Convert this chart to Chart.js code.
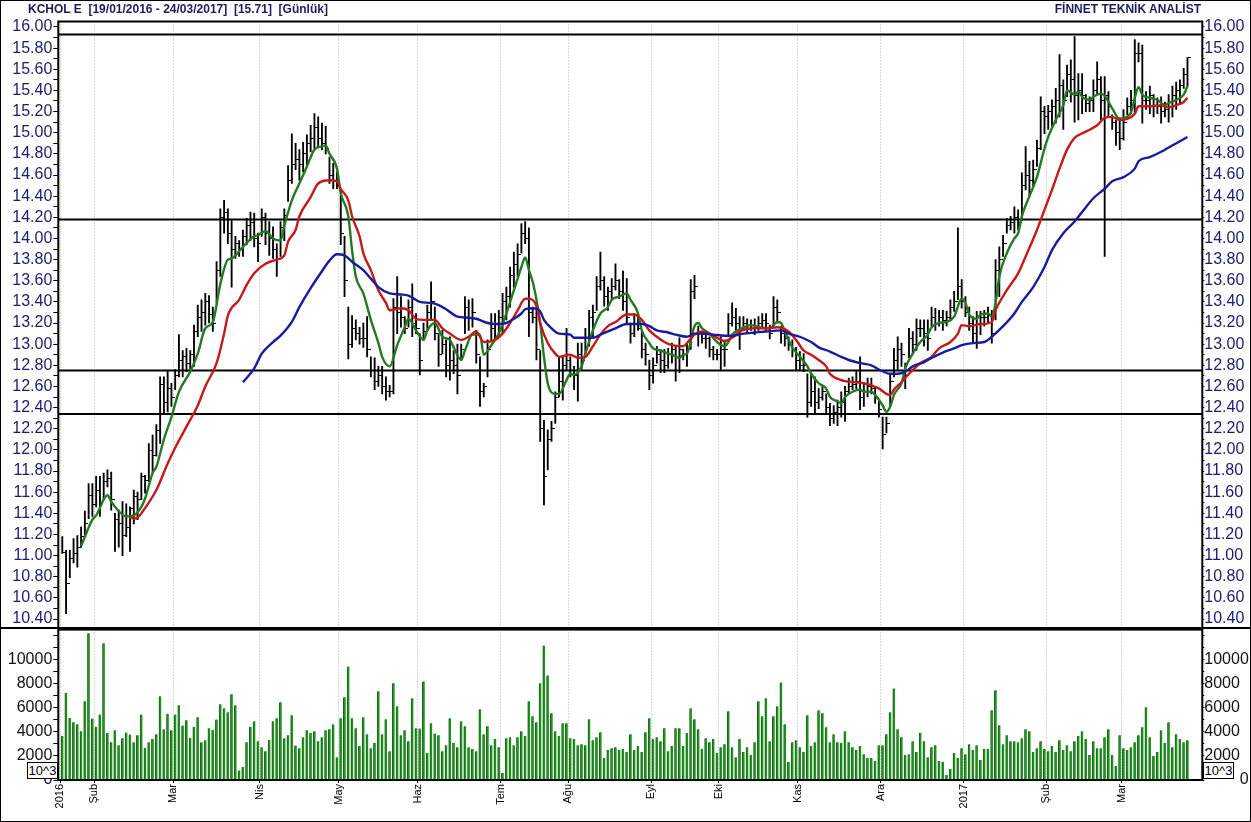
<!DOCTYPE html>
<html>
<head>
<meta charset="utf-8">
<script src="https://cdn.jsdelivr.net/npm/chart.js@4.4.1/dist/chart.umd.min.js"></script>
<style>
  body { margin: 0; background: #fff; }
  #wrap { position: relative; width: 1251px; height: 822px; overflow: hidden; background: #fff;
          font-family: "Liberation Sans", Arial, sans-serif; }
  canvas { position: absolute; left: 0; }
  .head { position: absolute; top: 2px; font-weight: bold; font-size: 12px; line-height: 14px;
          color: #1c1c5c; white-space: pre; }
  .unit { position: absolute; top: 762px; width: 29px; height: 15px; border: 1px solid #000;
          background: #fff; font-size: 13px; line-height: 15px; text-align: center; color: #000; }
  #sep { position: absolute; left: 0; top: 627px; width: 1251px; height: 2px; background: #000; }
  #frame { position: absolute; left: 0; top: 0; width: 1251px; height: 822px; box-sizing: border-box;
           border: 1px solid #000; pointer-events: none; }
</style>
</head>
<body>
<div id="wrap">
  <canvas id="price" width="1251" height="640" style="top:0"></canvas>
  <canvas id="vol" width="1251" height="203" style="top:619px"></canvas>
  <div id="sep"></div>
  <div class="head" style="left:28px">KCHOL E  [19/01/2016 - 24/03/2017]  [15.71]  [Günlük]</div>
  <div class="head" style="right:50px">FİNNET TEKNİK ANALİST</div>
  <div class="unit" style="left:27px">10^3</div>
  <div class="unit" style="left:1203px">10^3</div>
  <div id="frame"></div>
</div>
<script>
// month boundaries (trading-day index of the first bar of each month)
const monthStarts = [0, 9, 30, 53, 74, 95, 117, 135, 157, 175, 196, 218, 240, 262, 282];
const monthLabels = ['2016', 'Şub', 'Mar', 'Nis', 'May', 'Haz', 'Tem', 'Ağu', 'Eyl', 'Eki', 'Kas', 'Ara', '2017', 'Şub', 'Mar'];

const priceTicks = [10.4, 10.6, 10.8, 11.0, 11.2, 11.4, 11.6, 11.8, 12.0, 12.2, 12.4, 12.6, 12.8, 13.0, 13.2,
                    13.4, 13.6, 13.8, 14.0, 14.2, 14.4, 14.6, 14.8, 15.0, 15.2, 15.4, 15.6, 15.8, 16.0];
const volTicks = [0, 2000, 4000, 6000, 8000, 10000];

// horizontal support / resistance levels
const levels = [15.93, 14.18, 12.75, 12.34];

// daily bars, 19/01/2016 - 24/03/2017
const highs = [
  11.18, 11.05, 11.05, 11.16, 11.19, 11.27, 11.42, 11.68, 11.68, 11.75,
  11.75, 11.78, 11.81, 11.79, 11.40, 11.43, 11.51, 11.49, 11.46, 11.62,
  11.60, 11.78, 11.76, 12.06, 12.14, 12.24, 12.69, 12.69, 12.74, 12.63,
  12.76, 13.09, 12.94, 12.96, 12.94, 13.18, 13.37, 13.42, 13.48, 13.46,
  13.35, 13.78, 14.28, 14.36, 14.28, 14.17, 14.02, 13.98, 14.08, 14.19,
  14.25, 14.24, 14.05, 14.28, 14.24, 14.16, 14.11, 13.95, 14.16, 14.28,
  14.69, 14.99, 14.90, 14.84, 14.91, 14.98, 15.07, 15.18, 15.15, 15.09,
  15.06, 14.77, 14.71, 14.63, 14.46, 14.02, 13.35, 13.27, 13.23, 13.16,
  13.20, 13.26, 12.88, 12.87, 12.79, 12.79, 12.69, 12.61, 13.43, 13.64,
  13.45, 13.26, 13.42, 13.57, 13.29, 13.10, 13.20, 13.37, 13.59, 13.35,
  13.10, 13.13, 13.04, 13.07, 12.94, 13.00, 13.00, 13.45, 13.42, 13.43,
  13.13, 12.88, 12.63, 13.04, 13.29, 13.29, 13.32, 13.48, 13.54, 13.73,
  13.87, 13.95, 14.14, 14.16, 14.10, 13.35, 13.32, 12.94, 12.28, 12.19,
  12.27, 12.55, 12.88, 12.88, 13.15, 12.88, 12.79, 13.01, 13.01, 13.15,
  13.32, 13.37, 13.64, 13.87, 13.64, 13.54, 13.62, 13.76, 13.61, 13.69,
  13.62, 13.20, 13.29, 13.29, 13.12, 13.01, 12.85, 12.87, 12.98, 12.95,
  12.95, 12.96, 13.01, 12.98, 13.06, 12.95, 13.01, 13.61, 13.65, 13.17,
  13.12, 13.13, 13.07, 12.98, 12.95, 13.07, 13.02, 13.29, 13.39, 13.34,
  13.26, 13.26, 13.24, 13.23, 13.24, 13.26, 13.29, 13.29, 13.18, 13.45,
  13.42, 13.17, 13.13, 13.07, 13.04, 12.97, 12.93, 12.91, 12.72, 12.72,
  12.69, 12.58, 12.61, 12.53, 12.44, 12.42, 12.47, 12.55, 12.60, 12.68,
  12.69, 12.74, 12.88, 12.63, 12.68, 12.68, 12.60, 12.46, 12.31, 12.31,
  12.71, 12.96, 13.07, 13.01, 12.82, 13.15, 13.12, 13.24, 13.23, 13.23,
  13.23, 13.35, 13.34, 13.32, 13.32, 13.31, 13.42, 13.50, 14.10, 13.61,
  13.45, 13.35, 13.26, 13.31, 13.31, 13.32, 13.35, 13.32, 13.80, 13.92,
  14.03, 14.19, 14.21, 14.30, 14.27, 14.62, 14.87, 14.73, 14.74, 14.93,
  15.34, 15.25, 15.26, 15.31, 15.42, 15.74, 15.50, 15.64, 15.69, 15.91,
  15.56, 15.56, 15.36, 15.34, 15.50, 15.67, 15.53, 15.53, 15.39, 15.17,
  15.12, 15.14, 15.22, 15.33, 15.40, 15.88, 15.85, 15.83, 15.39, 15.44,
  15.36, 15.33, 15.34, 15.29, 15.36, 15.44, 15.48, 15.50, 15.61, 15.71
];
const lows = [
  11.02, 10.45, 10.79, 10.93, 10.89, 11.08, 11.18, 11.35, 11.37, 11.46,
  11.37, 11.53, 11.65, 11.43, 11.04, 11.08, 11.00, 11.18, 11.04, 11.30,
  11.34, 11.53, 11.59, 11.70, 11.78, 11.94, 12.06, 12.34, 12.36, 12.41,
  12.57, 12.69, 12.69, 12.74, 12.76, 12.79, 13.07, 13.12, 13.18, 13.20,
  13.12, 13.39, 13.64, 14.05, 13.95, 13.54, 13.81, 13.83, 13.83, 13.94,
  13.98, 13.92, 13.78, 14.02, 13.94, 13.84, 13.81, 13.64, 13.83, 13.98,
  14.35, 14.52, 14.65, 14.55, 14.63, 14.69, 14.82, 14.85, 14.87, 14.84,
  14.80, 14.52, 14.47, 14.47, 13.94, 13.45, 12.86, 12.97, 13.04, 13.00,
  12.97, 12.88, 12.69, 12.57, 12.60, 12.53, 12.47, 12.50, 12.53, 13.10,
  13.16, 13.10, 13.16, 13.07, 13.10, 12.71, 13.04, 13.13, 13.23, 13.04,
  12.79, 12.91, 12.69, 12.66, 12.72, 12.53, 12.85, 13.10, 13.13, 13.16,
  12.82, 12.41, 12.50, 12.69, 13.04, 13.04, 13.07, 13.10, 13.23, 13.35,
  13.54, 13.64, 13.86, 13.95, 13.07, 13.20, 12.85, 12.08, 11.48, 11.81,
  12.08, 12.25, 12.50, 12.47, 12.76, 12.69, 12.57, 12.46, 12.76, 12.91,
  12.98, 13.07, 13.32, 13.51, 13.36, 13.32, 13.42, 13.51, 13.43, 13.32,
  13.20, 13.01, 13.07, 13.13, 12.87, 12.80, 12.57, 12.63, 12.82, 12.73,
  12.73, 12.77, 12.82, 12.65, 12.73, 12.85, 12.79, 12.95, 13.43, 12.98,
  13.01, 12.96, 12.88, 12.85, 12.85, 12.76, 12.79, 13.07, 13.17, 13.13,
  12.95, 13.13, 13.10, 13.13, 13.09, 13.13, 13.16, 13.13, 13.05, 13.16,
  13.20, 13.01, 12.98, 12.94, 12.88, 12.75, 12.75, 12.74, 12.31, 12.41,
  12.34, 12.39, 12.47, 12.34, 12.23, 12.25, 12.23, 12.31, 12.27, 12.53,
  12.57, 12.58, 12.38, 12.41, 12.50, 12.53, 12.44, 12.31, 12.01, 12.16,
  12.41, 12.69, 12.76, 12.79, 12.58, 12.87, 12.91, 12.94, 13.07, 12.98,
  12.94, 13.17, 13.13, 13.17, 13.13, 13.17, 13.23, 13.31, 13.42, 13.34,
  13.26, 13.13, 13.02, 12.96, 13.09, 13.17, 13.20, 13.01, 13.23, 13.45,
  13.83, 14.05, 14.08, 14.05, 14.08, 14.17, 14.46, 14.40, 14.49, 14.68,
  14.84, 14.99, 15.03, 15.06, 15.09, 15.15, 15.03, 15.34, 15.29, 15.10,
  15.12, 15.18, 15.20, 15.20, 15.20, 15.36, 15.12, 13.83, 15.15, 15.03,
  14.88, 14.84, 14.93, 15.17, 15.18, 15.18, 15.67, 15.09, 15.22, 15.18,
  15.15, 15.18, 15.09, 15.15, 15.10, 15.15, 15.22, 15.28, 15.42, 15.44
];
const closes = [
  11.03, 10.74, 10.97, 11.02, 11.08, 11.18, 11.30, 11.57, 11.48, 11.62,
  11.49, 11.70, 11.73, 11.53, 11.34, 11.30, 11.19, 11.27, 11.45, 11.56,
  11.53, 11.75, 11.71, 11.99, 11.95, 12.18, 12.62, 12.45, 12.58, 12.50,
  12.70, 12.85, 12.88, 12.82, 12.90, 13.12, 13.25, 13.30, 13.40, 13.28,
  13.20, 13.70, 14.20, 14.25, 14.05, 13.90, 13.95, 13.90, 14.02, 14.12,
  14.15, 14.00, 13.95, 14.20, 14.05, 14.00, 13.90, 13.80, 14.10, 14.22,
  14.55, 14.70, 14.75, 14.70, 14.80, 14.90, 14.95, 15.05, 14.95, 14.90,
  14.85, 14.60, 14.55, 14.50, 14.05, 13.60, 13.00, 13.15, 13.10, 13.05,
  13.05, 12.95, 12.75, 12.65, 12.70, 12.60, 12.55, 12.55, 13.35, 13.30,
  13.25, 13.15, 13.35, 13.20, 13.15, 12.85, 13.12, 13.30, 13.40, 13.10,
  12.90, 13.00, 12.80, 12.85, 12.80, 12.70, 12.95, 13.35, 13.25, 13.30,
  12.90, 12.55, 12.60, 12.95, 13.15, 13.20, 13.25, 13.40, 13.45, 13.65,
  13.75, 13.85, 14.05, 14.00, 13.30, 13.25, 12.95, 12.20, 11.75, 12.10,
  12.20, 12.50, 12.65, 12.80, 12.85, 12.75, 12.70, 12.90, 12.85, 13.05,
  13.25, 13.30, 13.55, 13.60, 13.45, 13.50, 13.55, 13.60, 13.50, 13.40,
  13.25, 13.10, 13.20, 13.15, 12.95, 12.90, 12.70, 12.80, 12.90, 12.85,
  12.80, 12.90, 12.95, 12.75, 12.95, 12.90, 12.95, 13.50, 13.55, 13.10,
  13.05, 13.05, 12.95, 12.90, 12.90, 12.95, 12.95, 13.20, 13.25, 13.20,
  13.10, 13.20, 13.15, 13.18, 13.15, 13.20, 13.22, 13.20, 13.10, 13.35,
  13.30, 13.10, 13.05, 13.00, 12.95, 12.85, 12.80, 12.80, 12.45, 12.55,
  12.45, 12.50, 12.55, 12.40, 12.30, 12.35, 12.40, 12.45, 12.55, 12.60,
  12.62, 12.65, 12.50, 12.55, 12.60, 12.58, 12.50, 12.38, 12.15, 12.25,
  12.65, 12.85, 12.95, 12.90, 12.70, 13.05, 13.00, 13.15, 13.15, 13.10,
  13.05, 13.25, 13.20, 13.25, 13.22, 13.25, 13.35, 13.40, 13.55, 13.40,
  13.30, 13.20, 13.10, 13.20, 13.25, 13.25, 13.28, 13.10, 13.70, 13.80,
  13.95, 14.12, 14.15, 14.20, 14.15, 14.50, 14.60, 14.55, 14.65, 14.85,
  15.20, 15.15, 15.20, 15.25, 15.30, 15.45, 15.30, 15.55, 15.50, 15.35,
  15.40, 15.35, 15.28, 15.30, 15.40, 15.50, 15.30, 15.35, 15.25, 15.10,
  15.00, 14.95, 15.10, 15.25, 15.30, 15.75, 15.75, 15.30, 15.30, 15.35,
  15.25, 15.25, 15.20, 15.22, 15.25, 15.35, 15.40, 15.45, 15.55, 15.71
];
// volume, thousands of shares
const volumes = [
  3650, 7240, 5170, 4810, 4640, 4060, 6550, 12200, 5110, 4420,
  5440, 11380, 3920, 3150, 4140, 2900, 3480, 3950, 3780, 3150,
  3730, 5440, 2680, 3150, 3400, 3810, 6960, 4230, 5520, 4140,
  5440, 6220, 4530, 4970, 3510, 4420, 5220, 3150, 3310, 4310,
  4170, 5030, 6300, 5970, 5640, 7130, 6220, 800, 1080, 3150,
  4420, 4890, 3230, 2730, 2400, 3340, 4890, 5140, 6460, 3480,
  3730, 5390, 2870, 2650, 3560, 4140, 3900, 4060, 3230, 3560,
  4140, 4230, 4640, 1900, 5140, 6880, 9450, 5140, 4310, 2820,
  5220, 3810, 2650, 3070, 7380, 3810, 5060, 2400, 8040, 6130,
  3730, 4140, 3230, 6800, 4310, 4280, 8200, 2240, 4720, 3870,
  3730, 2400, 2900, 5140, 3070, 2730, 4890, 4480, 2730, 2570,
  2400, 5880, 3810, 4480, 2900, 3400, 2730, 580, 3480, 3560,
  2900, 3560, 4060, 3650, 6550, 5300, 4810, 8040, 11190, 8700,
  5550, 4060, 3650, 4720, 4720, 3480, 3400, 2900, 2980, 2900,
  5060, 3310, 3560, 3980, 1820, 2490, 2650, 2730, 2490, 2570,
  2320, 3810, 2490, 2820, 2320, 3980, 5140, 3400, 3560, 3230,
  4310, 2400, 2820, 4310, 4310, 2820, 3900, 5970, 5060, 4230,
  2570, 3480, 3150, 3400, 2240, 2730, 2980, 5720, 2730, 1900,
  3400, 2320, 2730, 2070, 3150, 6550, 5300, 6800, 3230, 5300,
  6130, 8120, 4640, 1490, 3150, 3310, 2730, 2320, 5390, 2820,
  3150, 5800, 5550, 4390, 3150, 3810, 3150, 3070, 4060, 3150,
  2730, 2490, 2820, 2150, 1820, 1820, 1570, 2900, 2900, 3810,
  5640, 7620, 4230, 3560, 2070, 2150, 3230, 2320, 3900, 3230,
  1900, 2730, 2900, 1570, 1490, 440, 910, 2240, 1820, 2650,
  2150, 2980, 2490, 2900, 1660, 2570, 2570, 5800, 7460, 4560,
  2980, 3730, 3230, 3230, 3150, 3480, 4230, 4060, 2320, 2650,
  3230, 2570, 2400, 2820, 2320, 3310, 2490, 2900, 2400, 3230,
  3650, 4060, 3400, 2070, 3230, 2650, 2650, 3560, 4230, 2070,
  1160, 3730, 2650, 2490, 2730, 3150, 3730, 4390, 6050, 3560,
  1990, 2320, 4140, 3070, 4810, 2730, 3810, 3400, 3150, 3310
];

// moving averages (day index -> value)
const greenDays = [5,8,9,12,13,15,17,19,21,22, 24,25,27,29,31,34,36,38,40,42, 44,45,48,51,52,54,56,58,59,61,
  63,65,67,69,70,71,73,74,76,77, 78,80,82,84,85,87,89,91,92,94, 96,97,99,101,103,104,106,107,109,111,
  112,114,116,118,119,121,122,123,124,125, 126,127,128,129,131,132,134,135,136,138, 139,141,143,145,146,148,150,151,153,154,
  156,157,159,161,162,164,165,166,168,169, 170,172,174,176,177,178,180,183,185,188, 190,191,192,194,196,198,199,201,203,204,
  206,207,208,210,212,213,215,216,218,219, 220,221,223,224,226,228,230,231,233,235, 237,239,240,241,243,244,246,247,248,249,
  251,253,254,255,257,259,261,262,264,266, 267,269,270,271,273,274,276,277,279,281, 282,284,285,286,287,289,291,293,294,296, 298,299];
const greenVals = [11.09,11.34,11.38,11.57,11.51,11.42,11.37,11.38,11.46,11.54, 11.78,11.84,12.10,12.31,12.55,12.74,12.91,13.15,13.21,13.57,
  13.80,13.81,13.92,14.02,14.03,14.07,14.00,13.98,14.12,14.36, 14.52,14.68,14.84,14.87,14.88,14.80,14.66,14.43,14.21,13.89,
  13.64,13.48,13.23,13.01,12.88,12.79,12.99,13.16,13.24,13.13, 13.04,13.13,13.20,13.07,13.04,12.97,12.85,12.94,13.09,13.09,
  12.90,12.99,13.10,13.29,13.40,13.62,13.73,13.82,13.70,13.59, 13.42,13.20,12.88,12.63,12.53,12.53,12.66,12.72,12.71,12.79,
  12.91,13.13,13.29,13.35,13.42,13.45,13.48,13.42,13.29,13.13, 13.01,12.96,12.94,12.91,12.90,12.87,12.90,12.91,13.17,13.20,
  13.15,13.10,13.02,12.98,13.02,13.09,13.14,13.18,13.16,13.15, 13.21,13.20,13.12,12.97,12.88,12.79,12.72,12.63,12.58,12.50,
  12.46,12.44,12.50,12.55,12.57,12.55,12.55,12.52,12.42,12.36, 12.41,12.52,12.63,12.77,12.91,13.02,13.09,13.16,13.20,13.21,
  13.26,13.43,13.39,13.28,13.24,13.28,13.29,13.26,13.39,13.64, 13.86,14.00,14.05,14.21,14.40,14.58,14.85,14.96,15.12,15.26,
  15.40,15.36,15.39,15.34,15.31,15.34,15.37,15.35,15.23,15.13, 15.14,15.19,15.33,15.43,15.36,15.33,15.31,15.26,15.28,15.31, 15.36,15.44];

const redDays = [18,19,20,22,25,28,30,33,36,38, 41,43,44,47,49,51,54,57,59,60, 62,63,66,68,71,73,74,76,77,79,
  80,82,84,86,87,90,92,94,96,99, 101,103,106,108,110,112,115,117,119,121, 123,124,126,127,129,131,132,135,137,139,
  141,143,145,147,150,152,154,156,158,160, 162,165,166,168,170,172,174,176,178,179, 180,184,187,190,193,195,197,199,201,203,
  204,207,208,211,213,215,217,219,220,221, 223,225,228,231,233,236,238,239,241,244, 247,248,251,254,256,259,261,263,265,267,
  269,272,275,277,279,281,283,285,286,289, 292,294,296,298,299];
const redVals = [11.36,11.35,11.36,11.45,11.62,11.87,12.02,12.22,12.42,12.60, 12.82,13.10,13.27,13.42,13.56,13.67,13.76,13.80,13.84,13.97,
  14.08,14.21,14.39,14.52,14.55,14.54,14.47,14.36,14.21,14.02, 13.86,13.70,13.51,13.39,13.32,13.34,13.32,13.24,13.23,13.23,
  13.15,13.10,13.04,13.07,13.12,13.02,13.04,13.10,13.20,13.32, 13.43,13.43,13.36,13.20,13.01,12.91,12.88,12.90,12.87,12.88,
  12.98,13.09,13.17,13.21,13.28,13.28,13.23,13.13,13.07,13.02, 12.99,12.98,13.01,13.09,13.12,13.10,13.06,13.03,13.06,13.09,
  13.12,13.15,13.15,13.16,13.12,13.04,12.94,12.90,12.85,12.79, 12.72,12.66,12.65,12.64,12.63,12.61,12.58,12.53,12.52,12.57,
  12.64,12.72,12.82,12.88,12.96,13.02,13.10,13.18,13.17,13.19, 13.21,13.32,13.51,13.67,13.83,14.08,14.27,14.46,14.66,14.84,
  14.95,15.01,15.07,15.14,15.15,15.12,15.13,15.18,15.25,15.25, 15.26,15.24,15.26,15.29,15.33];

const blueDays = [48,51,53,56,58,61,63,66,69,71, 73,75,77,80,82,84,87,90,92,95, 98,100,102,105,108,110,113,115,118,120,
  122,123,125,127,128,130,132,135,136,139, 141,143,145,147,150,152,154,156,158,161, 163,166,168,170,173,176,178,181,184,187,
  191,193,196,199,201,204,207,209,212,215, 217,220,222,224,226,229,231,234,237,239, 242,245,247,250,253,255,258,261,263,266,
  269,271,274,277,279,282,285,286,289,292, 294,297,299];
const blueVals = [12.64,12.77,12.91,13.02,13.08,13.21,13.35,13.53,13.69,13.79, 13.85,13.84,13.78,13.70,13.62,13.54,13.48,13.47,13.46,13.40,
  13.39,13.37,13.33,13.26,13.25,13.24,13.20,13.19,13.20,13.24, 13.29,13.33,13.34,13.31,13.23,13.15,13.10,13.09,13.06,13.06,
  13.06,13.09,13.12,13.15,13.19,13.19,13.19,13.17,13.13,13.11, 13.09,13.07,13.10,13.10,13.09,13.08,13.08,13.10,13.11,13.12,
  13.13,13.10,13.07,13.02,12.97,12.93,12.88,12.85,12.82,12.80, 12.76,12.72,12.72,12.74,12.79,12.83,12.87,12.92,12.96,12.99,
  13.01,13.02,13.07,13.17,13.29,13.40,13.54,13.73,13.89,14.05, 14.16,14.25,14.38,14.47,14.54,14.58,14.66,14.73,14.77,14.82,
  14.86,14.92,14.96];

// ---- layout ----
const X_MIN = -1.06, X_MAX = 302.94;
const LEFT_W = 58.3, RIGHT_W = 1251 - 1202.3;
const FONT = 'Liberation Sans';

const framePlugin = {
  id: 'frame',
  afterDraw(chart) {
    const a = chart.chartArea, ctx = chart.ctx;
    ctx.save();
    ctx.strokeStyle = '#000';
    ctx.lineWidth = 2;
    ctx.strokeRect(a.left, a.top, a.right - a.left, a.bottom - a.top);
    ctx.restore();
  }
};

// little right-hand tick for the close
const closeMark = document.createElement('canvas');
closeMark.width = 7; closeMark.height = 1;
const cm = closeMark.getContext('2d');
cm.fillStyle = '#000';
cm.fillRect(4, 0, 3, 1);

function monthGridAxis(showLabels) {
  return {
    type: 'linear', min: X_MIN, max: X_MAX, offset: false,
    afterBuildTicks: s => { s.ticks = monthStarts.map(m => ({ value: m - 0.5 })); },
    afterFit: s => { s.height = showLabels ? 42 : 0; },
    ticks: {
      display: showLabels, autoSkip: false, minRotation: 90, maxRotation: 90,
      color: '#000', font: { family: FONT, size: 11 }, padding: 1,
      callback: (v, i) => monthLabels[i]
    },
    grid: { color: '#b4b4b4', offset: false, drawTicks: showLabels, tickLength: 3, tickColor: '#000' },
    border: { display: false, dash: [1, 2] }
  };
}

function priceAxis(pos) {
  const minor = priceTicks.slice(0, -1).map(v => v + 0.1);
  return {
    position: pos, min: 10.315, max: 16.052, beginAtZero: false,
    afterBuildTicks: s => { s.ticks = priceTicks.concat(minor).sort((a, b) => a - b).map(v => ({ value: v })); },
    afterFit: s => { s.width = pos === 'left' ? LEFT_W : RIGHT_W; },
    ticks: {
      autoSkip: false, color: '#1b1b6e', font: { family: FONT, size: 16 }, padding: pos === 'left' ? 1 : 0,
      callback: v => priceTicks.some(p => Math.abs(p - v) < 1e-6) ? v.toFixed(2) : ''
    },
    grid: { drawOnChartArea: false, tickLength: pos === 'left' ? 5 : 2, color: '#000' },
    border: { display: false }
  };
}

function volAxis(pos) {
  const minor = [1000, 3000, 5000, 7000, 9000, 11000, 12000];
  return {
    position: pos, min: 0, max: 12510, beginAtZero: true,
    afterBuildTicks: s => { s.ticks = volTicks.concat(minor).sort((a, b) => a - b).map(v => ({ value: v })); },
    afterFit: s => { s.width = pos === 'left' ? LEFT_W : RIGHT_W; },
    ticks: {
      autoSkip: false, color: '#111', font: { family: FONT, size: 16 }, padding: pos === 'left' ? 1 : 0,
      callback: v => {
        if (!volTicks.includes(v)) return '';
        if (v === 0 && pos === 'right') return '        0';
        return String(v);
      }
    },
    grid: { drawOnChartArea: false, tickLength: pos === 'left' ? 5 : 2, color: '#000' },
    border: { display: false }
  };
}

const maLine = (days, vals, color) => ({
  type: 'line',
  data: days.map((d, k) => ({ x: d, y: vals[k] })),
  borderColor: color, borderWidth: 2.4, pointRadius: 0,
  cubicInterpolationMode: 'monotone', order: 1
});

new Chart(document.getElementById('price'), {
  type: 'bar',
  data: {
    datasets: [
      {
        type: 'bar',
        data: highs.map((h, i) => ({ x: i, y: [lows[i], h] })),
        backgroundColor: '#000', barThickness: 1.2, order: 10
      },
      {
        type: 'line',
        data: closes.map((c, i) => ({ x: i, y: c })),
        showLine: false, pointStyle: closeMark, pointRadius: 1, order: 9
      },
      ...levels.map(lv => ({
        type: 'line',
        data: [{ x: X_MIN, y: lv }, { x: X_MAX, y: lv }],
        borderColor: '#000', borderWidth: 2, pointRadius: 0, order: 5
      })),
      maLine(blueDays, blueVals, '#1a1a9c'),
      maLine(redDays, redVals, '#c41a1a'),
      maLine(greenDays, greenVals, '#237a23')
    ]
  },
  options: {
    responsive: false, animation: false, events: [],
    // canvas runs 12px past the panel so the axis label padding does not squeeze the plot
    layout: { padding: { top: 21.5, bottom: 12, left: 0, right: 0 } },
    plugins: { legend: { display: false }, tooltip: { enabled: false } },
    scales: {
      x: monthGridAxis(false),
      y: priceAxis('left'),
      yR: priceAxis('right')
    }
  },
  plugins: [framePlugin]
});

new Chart(document.getElementById('vol'), {
  type: 'bar',
  data: {
    datasets: [{
      data: volumes.map((v, i) => ({ x: i, y: v })),
      backgroundColor: '#229322', borderColor: '#146614',
      borderWidth: { left: 1, right: 0, top: 0, bottom: 0 }, borderSkipped: false,
      barThickness: 2.4
    }]
  },
  options: {
    responsive: false, animation: false, events: [],
    // canvas starts 10px above the panel for the same reason
    layout: { padding: { top: 10, bottom: 0, left: 0, right: 0 } },
    plugins: { legend: { display: false }, tooltip: { enabled: false } },
    scales: {
      x: monthGridAxis(true),
      y: volAxis('left'),
      yR: volAxis('right')
    }
  },
  plugins: [framePlugin]
});
</script>
</body>
</html>
